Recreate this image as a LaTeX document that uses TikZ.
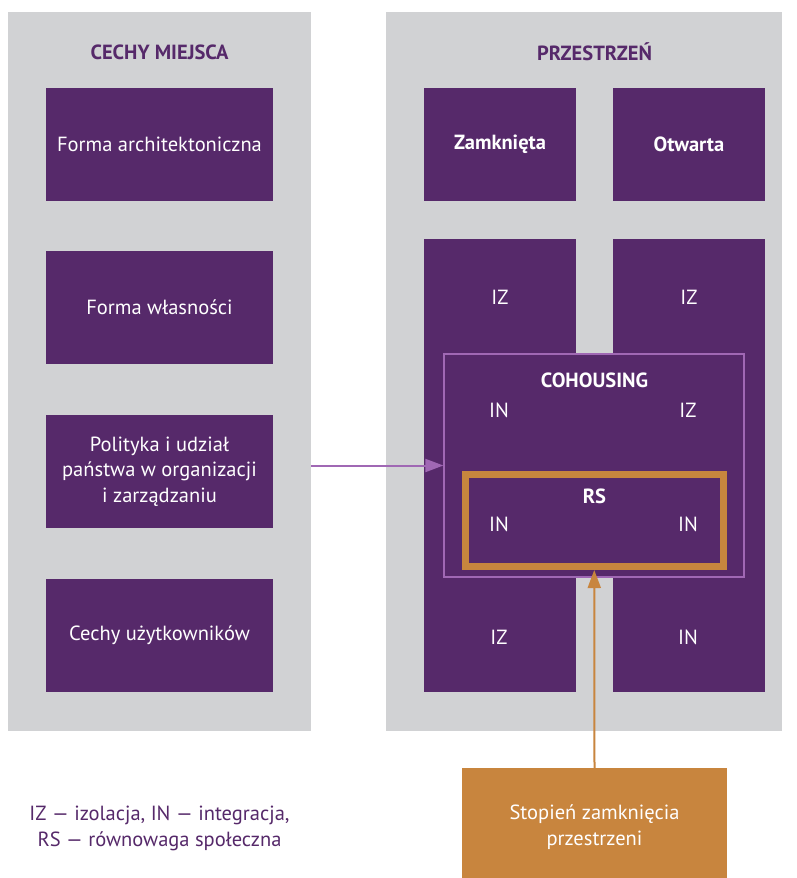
\documentclass[tikz,border=0pt]{standalone}
\usepackage{fontspec}
\setmainfont{PT Sans}
\usetikzlibrary{arrows.meta}
\definecolor{pur}{HTML}{56296A}
\definecolor{gry}{HTML}{D1D2D4}
\definecolor{org}{HTML}{C8853E}
\definecolor{lpur}{HTML}{A068B4}
\begin{document}
\begin{tikzpicture}[x=1pt,y=-1pt,
  panel/.style={fill=gry,draw=none,inner sep=0pt,outer sep=0pt},
  pbox/.style={fill=pur,draw=none,inner sep=0pt,outer sep=0pt,minimum width=227pt,minimum height=113pt,text=white,align=center,font=\fontsize{20.5}{25.5}\selectfont},
  cbox/.style={fill=pur,draw=none,inner sep=0pt,outer sep=0pt,minimum width=152pt,text=white,font=\fontsize{20.5}{25}\selectfont\bfseries},
  ttl/.style={text=pur,font=\fontsize{20.5}{22}\selectfont\bfseries},
  lbl/.style={text=white,font=\fontsize{20.5}{22}\selectfont,inner sep=0pt},
  blbl/.style={text=white,font=\fontsize{20.5}{22}\selectfont\bfseries,inner sep=0pt}]
\useasboundingbox (0,0) rectangle (797,878);
\fill[white] (0,0) rectangle (797,878);
% panels
\node[panel,minimum width=303pt,minimum height=718.5pt] (lp) at (159.5,371.25) {};
\node[panel,minimum width=396pt,minimum height=718.5pt] (rp) at (584,371.25) {};
\node[ttl] (t1) at (159.5,52) {CECHY MIEJSCA};
\node[ttl] (t2) at (594.5,52) {PRZESTRZEŃ};
% left boxes
\node[pbox] (b1) at (159.5,144.5) {Forma architektoniczna};
\node[pbox] (b2) at (159.5,307.5) {Forma własności};
\node[pbox] (b3) at (159.5,471.5) {Polityka i udział\\państwa w organizacji\\i zarządzaniu};
\node[pbox] (b4) at (159.5,635) {Cechy użytkowników};
% right top
\node[cbox,minimum height=113pt] (zam) at (500,144.5) {Zamknięta};
\node[cbox,minimum height=113pt] (otw) at (689,144.5) {Otwarta};
% columns
\node[cbox,minimum height=453pt] (c1) at (500,465.5) {};
\node[cbox,minimum height=453pt] (c2) at (689,465.5) {};
% cohousing
\node[fill=pur,draw=lpur,line width=2pt,inner sep=0pt,minimum width=299.7pt,minimum height=222.7pt] (coh) at (594.2,465.7) {};
\node[draw=org,line width=7pt,inner sep=0pt,minimum width=257.5pt,minimum height=92pt] (rs) at (594.25,520.5) {};
% labels
\node[lbl] (l1) at (500,297) {IZ};
\node[lbl] (l2) at (689,297) {IZ};
\node[blbl] (lc) at (594.5,380) {COHOUSING};
\node[lbl] (l3) at (499,410) {IN};
\node[lbl] (l4) at (688,410) {IZ};
\node[blbl] (lr) at (594.5,496) {RS};
\node[lbl] (l5) at (499,524) {IN};
\node[lbl] (l6) at (688,524) {IN};
\node[lbl] (l7) at (499,637) {IZ};
\node[lbl] (l8) at (688,637) {IN};
% bottom
\node[fill=org,inner sep=0pt,outer sep=0pt,minimum width=265pt,minimum height=110pt] (st) at (594.5,823) {};
\node[text=white,align=center,font=\fontsize{20.5}{26}\selectfont] (stt) at (594.5,827) {Stopień zamknięcia\\przestrzeni};
\node[text=pur,align=center,font=\fontsize{20.5}{26}\selectfont] (leg) at (159.5,828) {IZ — izolacja, IN — integracja,\\RS — równowaga społeczna};
% arrows
\draw[lpur,line width=2pt,-{Triangle[length=18pt,width=13pt]}] (lp.east |- 0,465.5) -- (coh.west |- 0,465.5);
\draw[org,line width=2pt,-{Triangle[length=18pt,width=13pt]}] (st.north) -- (rs.south);
\end{tikzpicture}
\end{document}
